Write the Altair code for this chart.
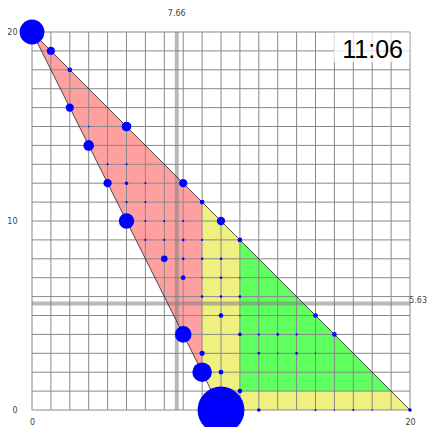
import altair as alt
import pandas as pd

# ---- data ----
pt_x = [0, 1, 2, 2, 3, 5, 3, 4, 5, 4, 5, 6, 8, 5, 6, 9, 5, 6, 7, 8, 10,
        6, 7, 8, 9, 11, 7, 8, 9, 10, 8, 9, 10, 11, 9, 10, 11, 10, 11, 15,
        8, 11, 12, 13, 14, 16, 9, 12, 13, 14, 15, 9, 10, 11, 10, 12, 15, 16, 17, 18, 20]
pt_y = [20, 19, 18, 16, 15, 15, 14, 13, 13, 12, 12, 12, 12, 11, 11, 11, 10, 10, 10, 10, 10,
        9, 9, 9, 9, 9, 8, 8, 8, 8, 7, 7, 7, 7, 6, 6, 6, 5, 5, 5,
        4, 4, 4, 4, 4, 4, 3, 3, 3, 3, 3, 2, 2, 1, 0, 0, 0, 0, 0, 0, 0]
pt_n = [280, 31, 10, 31, 1, 43, 51, 2, 2, 31, 6, 2, 31, 2, 2, 10, 107, 2, 2, 2, 31,
        2, 2, 3, 2, 10, 19, 3, 3, 3, 10, 1, 3, 1, 3, 3, 3, 10, 1, 10,
        125, 6, 2, 3, 2, 10, 12, 3, 1, 3, 1, 173, 10, 10, 1000, 6, 2, 1, 2, 1, 6]

region_name = ["red", "yellow", "yellow", "green"]
region_x = [[0, 9], [9, 10, 11], [11, 19, 20], [11, 19]]
region_lo = [[20, 2], [2, 0, 0], [0, 0, 0], [1, 1]]
region_hi = [[20, 11], [11, 10, 9], [1, 1, 0], [9, 1]]
region_colors = ["#ffa0a0", "#f0f080", "#60ff60"]

edge_x = [[0, 10], [0, 20]]
edge_y = [[20, 0], [20, 0]]

grid_vals = list(range(0, 21))
tick_vals = [0, 10, 20]
marker_x = 7.66
marker_y = 5.63
clock_text = "11:06"

# ---- tables ----
points = pd.DataFrame({"x": pt_x, "y": pt_y, "n": pt_n}).sort_values("n", ascending=False)

rows = []
for i, name in enumerate(region_name):
    for xv, lo, hi in zip(region_x[i], region_lo[i], region_hi[i]):
        rows.append({"seg": i, "region": name, "x": xv, "lo": lo, "hi": hi})
regions = pd.DataFrame(rows)

erows = []
for i in range(len(edge_x)):
    for xv, yv in zip(edge_x[i], edge_y[i]):
        erows.append({"edge": i, "x": xv, "y": yv})
edges = pd.DataFrame(erows)

grid = pd.DataFrame({"v": grid_vals})

xs = alt.Scale(domain=[0, 20], nice=False, zero=False)
ys = alt.Scale(domain=[0, 20], nice=False, zero=False)
xaxis = alt.Axis(values=tick_vals, grid=False, ticks=False, domain=False, title=None, labelFlush=False,
                 labelPadding=8, labelFontSize=8, labelColor="#444", labelFont="DejaVu Sans")
yaxis = alt.Axis(values=tick_vals, grid=False, ticks=False, domain=False, title=None, labelFlush=False,
                 labelPadding=15, labelFontSize=8, labelColor="#444", labelFont="DejaVu Sans")

area = alt.Chart(regions).mark_area(opacity=1, interpolate="linear").encode(
    x=alt.X("x:Q", scale=xs, axis=xaxis),
    y=alt.Y("hi:Q", scale=ys, axis=yaxis, stack=None),
    y2="lo:Q",
    detail="seg:N",
    color=alt.Color("region:N", scale=alt.Scale(domain=["red", "yellow", "green"], range=region_colors), legend=None),
)

vgrid = alt.Chart(grid).mark_rule(color="#888", strokeWidth=1).encode(
    x=alt.X("v:Q", scale=xs, axis=xaxis))
hgrid = alt.Chart(grid).mark_rule(color="#888", strokeWidth=1).encode(
    y=alt.Y("v:Q", scale=ys, axis=yaxis))

mx = alt.Chart(pd.DataFrame({"v": [marker_x]})).mark_rule(color="#808080", strokeWidth=4, opacity=0.55).encode(
    x=alt.X("v:Q", scale=xs, axis=xaxis))
my = alt.Chart(pd.DataFrame({"v": [marker_y]})).mark_rule(color="#808080", strokeWidth=4, opacity=0.55).encode(
    y=alt.Y("v:Q", scale=ys, axis=yaxis))

outline = alt.Chart(edges).mark_line(color="#222", strokeWidth=0.8).encode(
    x=alt.X("x:Q", scale=xs, axis=xaxis),
    y=alt.Y("y:Q", scale=ys, axis=yaxis),
    detail="edge:N",
)

dots = alt.Chart(points).mark_circle(color="#0000ff", opacity=1).encode(
    x=alt.X("x:Q", scale=xs, axis=xaxis),
    y=alt.Y("y:Q", scale=ys, axis=yaxis),
    size=alt.Size("n:Q", scale=alt.Scale(domain=[0, 1000], range=[0, 2200]), legend=None),
    order=alt.Order("n:Q", sort="descending"),
)

lbl_x = alt.Chart(pd.DataFrame({"v": [marker_x], "t": [f"{marker_x:.2f}"]})).mark_text(
    fontSize=8, color="#444", font="DejaVu Sans", dy=-18, baseline="middle", align="center").encode(
    x=alt.X("v:Q", scale=xs, axis=xaxis), y=alt.datum(20), text="t:N")
lbl_y = alt.Chart(pd.DataFrame({"v": [marker_y], "t": [f"{marker_y:.2f}"]})).mark_text(
    fontSize=8, color="#444", font="DejaVu Sans", dx=17, dy=-3, baseline="middle", align="right").encode(
    y=alt.Y("v:Q", scale=ys, axis=yaxis), x=alt.datum(20), text="t:N")

clock_box = alt.Chart(pd.DataFrame({"a": [15.97], "b": [19.97], "c": [18.4], "d": [19.97]})).mark_rect(
    color="white", opacity=0.75).encode(
    x=alt.X("a:Q", scale=xs, axis=xaxis), x2="b:Q",
    y=alt.Y("c:Q", scale=ys, axis=yaxis), y2="d:Q")
clock = alt.Chart(pd.DataFrame({"t": [clock_text]})).mark_text(
    fontSize=25, font="Liberation Sans", color="black", align="right", baseline="alphabetic",
    dx=-7, dy=26).encode(x=alt.datum(20), y=alt.datum(20), text="t:N")

chart = alt.layer(area, vgrid, hgrid, mx, my, outline, dots, lbl_x, lbl_y, clock_box, clock).properties(
    width=378, height=378,
    autosize=alt.AutoSizeParams(type="none"),
    padding={"left": 24, "top": 24, "right": 18, "bottom": 17},
).configure_view(stroke=None)

chart.save("out.html", embed_options={"renderer": "svg", "actions": False})
